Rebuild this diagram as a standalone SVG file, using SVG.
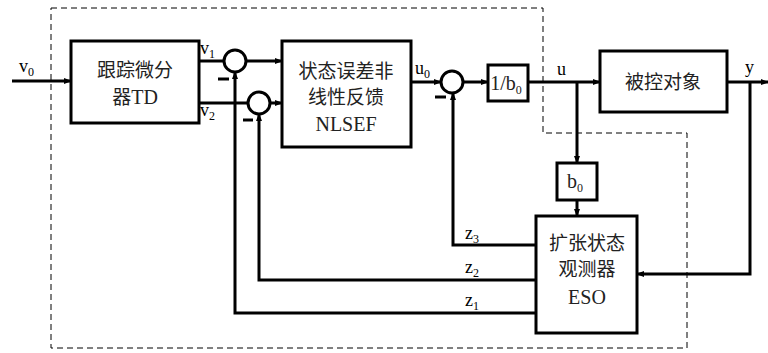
<svg xmlns="http://www.w3.org/2000/svg" width="768" height="353" viewBox="0 0 768 353">
<defs>
<marker id="ar" viewBox="0 0 8 8" refX="7" refY="4" markerWidth="8" markerHeight="8" markerUnits="userSpaceOnUse" orient="auto">
<path d="M0,1 L8,4 L0,7 Z" fill="#000"/>
</marker>
</defs>
<style>
.box{fill:#fff;stroke:#000;stroke-width:3}
.ln{fill:none;stroke:#000;stroke-width:3}
.dash{fill:none;stroke:#000;stroke-width:1;stroke-dasharray:6,4}
.cn{font-family:"Noto Sans CJK SC","Liberation Serif",serif;font-size:19px;fill:#222;text-anchor:middle}
.lt{font-family:"Liberation Serif",serif;font-size:20px;fill:#222;text-anchor:middle}
.lb{font-family:"Liberation Serif",serif;font-size:18px;fill:#000}
.sb{font-size:12px}
.mn{stroke:#000;stroke-width:3}
</style>
<path class="dash" d="M51,8 H543 V133 H687 V348 H51 Z"/>
<g id="connectors">
<path class="ln" d="M12,81 H71" marker-end="url(#ar)"/>
<path class="ln" d="M199,61 H224"/>
<path class="ln" d="M246,61 H282" marker-end="url(#ar)"/>
<path class="ln" d="M199,103 H248"/>
<path class="ln" d="M270,103 H282" marker-end="url(#ar)"/>
<path class="ln" d="M411,82 H441" marker-end="url(#ar)"/>
<path class="ln" d="M463,82 H488" marker-end="url(#ar)"/>
<path class="ln" d="M528,82 H600" marker-end="url(#ar)"/>
<path class="ln" d="M577,82 V163" marker-end="url(#ar)"/>
<path class="ln" d="M577,200 V216" marker-end="url(#ar)"/>
<path class="ln" d="M727,82 H768" marker-end="url(#ar)"/>
<path class="ln" d="M750,82 V274 H637" marker-end="url(#ar)"/>
<path class="ln" d="M536,245 H453 V93" marker-end="url(#ar)"/>
<path class="ln" d="M536,280 H259 V114" marker-end="url(#ar)"/>
<path class="ln" d="M536,313 H235 V72" marker-end="url(#ar)"/>
</g>
<g id="TD">
<rect class="box" x="71" y="41" width="128" height="82"/>
<text class="cn" x="135" y="77">跟踪微分</text>
<text class="cn" x="135" y="104">器<tspan font-family="Liberation Serif" font-size="20">TD</tspan></text>
</g>
<g id="sum1"><circle class="box" cx="235" cy="61" r="11"/></g>
<g id="sum2"><circle class="box" cx="259" cy="103" r="11"/></g>
<g id="sum3"><circle class="box" cx="452" cy="82" r="11"/></g>
<g id="signs">
<line class="mn" x1="218" y1="79" x2="229" y2="79"/>
<line class="mn" x1="243" y1="120" x2="253" y2="120"/>
<line class="mn" x1="435" y1="97" x2="446" y2="97"/>
</g>
<g id="NLSEF">
<rect class="box" x="282" y="41" width="129" height="106"/>
<text class="cn" x="346" y="78">状态误差非</text>
<text class="cn" x="346" y="104">线性反馈</text>
<text class="lt" x="346" y="131">NLSEF</text>
</g>
<g id="inv_b0">
<rect class="box" x="488" y="65" width="40" height="36"/>
<text class="lt" x="506" y="90">1/b<tspan class="sb" dy="4">0</tspan></text>
</g>
<g id="plant">
<rect class="box" x="600" y="51" width="127" height="61"/>
<text class="cn" x="663" y="89">被控对象</text>
</g>
<g id="b0">
<rect class="box" x="557" y="163" width="40" height="37"/>
<text class="lt" x="575" y="188">b<tspan class="sb" dy="4">0</tspan></text>
</g>
<g id="ESO">
<rect class="box" x="536" y="216" width="101" height="117"/>
<text class="cn" x="587" y="250">扩张状态</text>
<text class="cn" x="587" y="276">观测器</text>
<text class="lt" x="587" y="304">ESO</text>
</g>
<g id="labels">
<text class="lb" x="19" y="72">v<tspan class="sb" dy="4">0</tspan></text>
<text class="lb" x="200" y="54">v<tspan class="sb" dy="4">1</tspan></text>
<text class="lb" x="200" y="116">v<tspan class="sb" dy="4">2</tspan></text>
<text class="lb" x="415" y="74">u<tspan class="sb" dy="4">0</tspan></text>
<text class="lb" x="557" y="75">u</text>
<text class="lb" x="745" y="73">y</text>
<text class="lb" x="465" y="239">z<tspan class="sb" dy="4">3</tspan></text>
<text class="lb" x="465" y="273">z<tspan class="sb" dy="4">2</tspan></text>
<text class="lb" x="465" y="306">z<tspan class="sb" dy="4">1</tspan></text>
</g>
</svg>
